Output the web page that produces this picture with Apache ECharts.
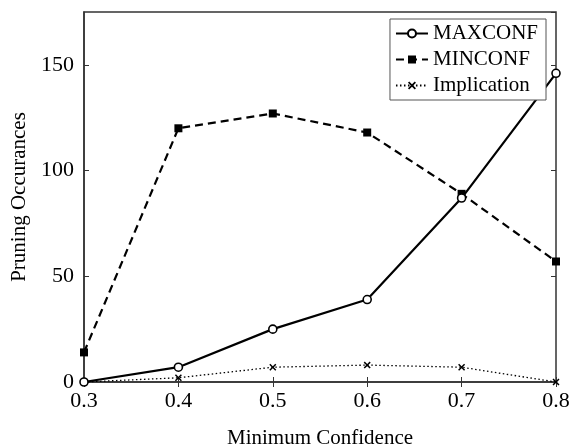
<!DOCTYPE html>
<html>
<head>
<meta charset="utf-8">
<script src="https://cdn.jsdelivr.net/npm/echarts@6/dist/echarts.min.js"></script>
<style>html,body{margin:0;padding:0;background:#fff;}#c{width:569px;height:448px;}</style>
</head>
<body>
<div id="c"></div>
<script>
const categories = ['0.3', '0.4', '0.5', '0.6', '0.7', '0.8'];
const maxconf = [0, 7, 25, 39, 87, 146];
const minconf = [14, 120, 127, 118, 89, 57];
const implication = [0, 2, 7, 8, 7, 0];
const yTicks = [0, 50, 100, 150];

const FONT = 'Liberation Serif';
const xMark = 'path://M0,1.5L1.5,0L5,3.5L8.5,0L10,1.5L6.5,5L10,8.5L8.5,10L5,6.5L1.5,10L0,8.5L3.5,5Z';

const chart = echarts.init(document.getElementById('c'));
chart.setOption({
  animation: false,
  textStyle: { fontFamily: FONT, color: '#000' },
  grid: { left: 84, right: 13, top: 12, bottom: 66, outerBoundsMode: 'none', containLabel: false,
    show: true, borderColor: '#333', borderWidth: 1.5, backgroundColor: 'transparent' },
  legend: {
    right: 23, top: 19, orient: 'vertical',
    backgroundColor: '#fff', borderColor: '#555', borderWidth: 1,
    padding: [4, 8, 4, 5], itemGap: 5, itemWidth: 32, itemHeight: 10,
    textStyle: { fontFamily: FONT, fontSize: 21, color: '#000' },
    data: ['MAXCONF', 'MINCONF', 'Implication']
  },
  xAxis: [{
    type: 'category', data: categories, boundaryGap: false,
    name: 'Minimum Confidence', nameLocation: 'middle', nameGap: 46,
    nameTextStyle: { fontFamily: FONT, fontSize: 21, color: '#000' },
    axisLine: { show: true, lineStyle: { color: '#333', width: 1.5 } },
    axisTick: { show: true, inside: true, length: 5, alignWithLabel: true, lineStyle: { color: '#333' } },
    axisLabel: { fontFamily: FONT, fontSize: 22, color: '#000', margin: 8 },
    splitLine: { show: false }
  }, {
    type: 'category', data: categories, boundaryGap: false, position: 'top',
    axisLine: { show: false },
    axisTick: { show: true, inside: true, length: 5, alignWithLabel: true, lineStyle: { color: '#333' } },
    axisLabel: { show: false }, splitLine: { show: false }
  }],
  yAxis: [{
    type: 'value', min: 0, max: 175, interval: 50,
    name: 'Pruning Occurances', nameLocation: 'middle', nameGap: 52,
    nameTextStyle: { fontFamily: FONT, fontSize: 21, color: '#000' },
    axisLine: { show: true, lineStyle: { color: '#333', width: 1.5 } },
    axisTick: { show: true, inside: true, length: 5, lineStyle: { color: '#333' } },
    axisLabel: { fontFamily: FONT, fontSize: 22, color: '#000', margin: 10, showMaxLabel: false,
      formatter: v => (yTicks.indexOf(v) >= 0 ? String(v) : '') },
    splitLine: { show: false }
  }, {
    type: 'value', min: 0, max: 175, interval: 50, position: 'right',
    axisLine: { show: false },
    axisTick: { show: true, inside: true, length: 5, lineStyle: { color: '#333' } },
    axisLabel: { show: false }, splitLine: { show: false }
  }],
  series: [{
    name: 'Implication', type: 'line', data: implication, xAxisIndex: 0, yAxisIndex: 0,
    symbol: xMark, symbolSize: 7, clip: false,
    lineStyle: { color: '#000', width: 1.3, type: [1.5, 2.5] },
    itemStyle: { color: '#000' }
  }, {
    name: 'MINCONF', type: 'line', data: minconf,
    symbol: 'rect', symbolSize: 8, clip: false,
    lineStyle: { color: '#000', width: 2.2, type: [8, 5] },
    itemStyle: { color: '#000' }
  }, {
    name: 'MAXCONF', type: 'line', data: maxconf,
    symbol: 'circle', symbolSize: 8, showAllSymbol: true, clip: false,
    lineStyle: { color: '#000', width: 2.2 },
    itemStyle: { color: '#fff', borderColor: '#000', borderWidth: 1.6 }
  }]
});
</script>
</body>
</html>
